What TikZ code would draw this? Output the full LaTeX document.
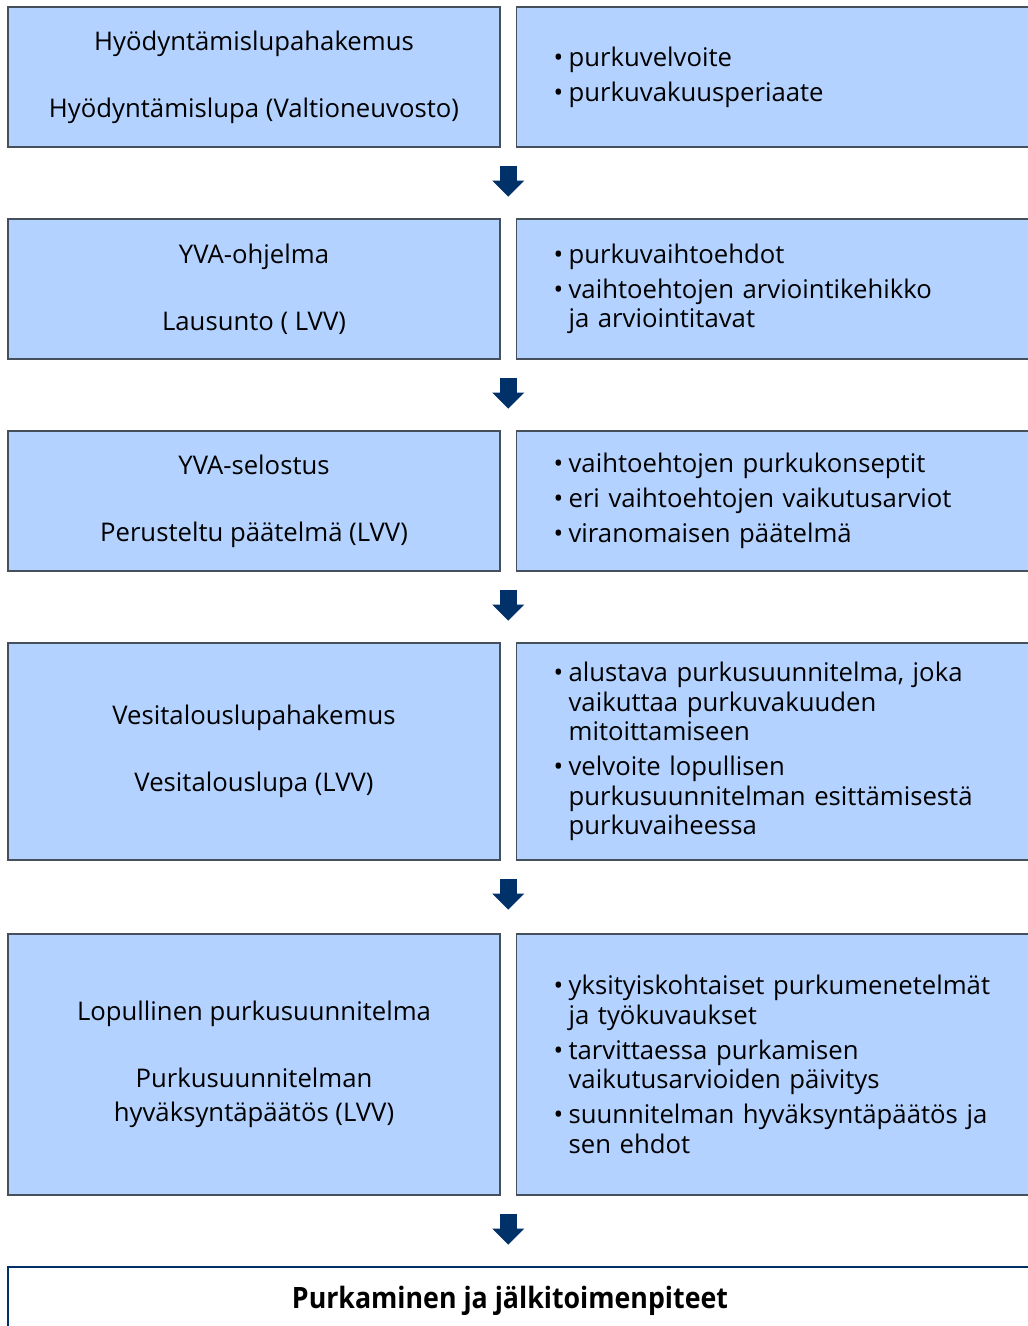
\documentclass[tikz,border=0pt]{standalone}
\usepackage{fontspec}
\setmainfont{Open Sans}
\newfontfamily\condfont[FakeStretch=0.91]{Open Sans}
\usetikzlibrary{arrows.meta, calc}
\definecolor{boxblue}{HTML}{B3D2FF}
\definecolor{boxline}{HTML}{45505C}
\definecolor{navy}{HTML}{003169}
\newcommand{\bul}{\makebox[15pt][l]{\textbullet}}
\newcommand{\ind}{\hspace*{15pt}}

\begin{document}
\begin{tikzpicture}[x=1pt, y=-1pt,
    leftbox/.style={draw=boxline, fill=boxblue, line width=1.2pt, minimum width=492pt, inner sep=0pt, align=center, font=\fontsize{25.7}{34}\selectfont},
    rightbox/.style={draw=boxline, fill=boxblue, line width=1.2pt, inner xsep=37pt, inner ysep=0pt, text width=450pt, align=left, font=\fontsize{25.7}{29.5}\selectfont},
    downarrow/.style={navy, line width=17pt, -{Triangle[width=31pt, length=16pt]}},
  ]
  \useasboundingbox (0,0) rectangle (1028,1326);
  \clip (0,0) rectangle (1028,1326);

  % Left column
  \node[leftbox, minimum height=140pt] (l1) at (254,77) {Hyödyntämislupahakemus\\[33pt]Hyödyntämislupa (Valtioneuvosto)};
  \node[leftbox, minimum height=140pt] (l2) at (254,289) {YVA-ohjelma\\[33pt]Lausunto ( LVV)};
  \node[leftbox, minimum height=140pt] (l3) at (254,501) {YVA-selostus\\[33pt]Perusteltu päätelmä (LVV)};
  \node[leftbox, minimum height=217pt] (l4) at (254,751.5) {Vesitalouslupahakemus\\[33pt]Vesitalouslupa (LVV)};
  \node[leftbox, minimum height=261pt] (l5) at (254,1064.5) {Lopullinen purkusuunnitelma\\[33pt]Purkusuunnitelman\\hyväksyntäpäätös (LVV)};

  % Right column
  \node[rightbox, minimum height=140pt, anchor=west] (r1) at (516,77)
    {\bul purkuvelvoite\\[5.5pt]\bul purkuvakuusperiaate};
  \node[rightbox, minimum height=140pt, anchor=west] (r2) at (516,289)
    {\bul purkuvaihtoehdot\\[5.5pt]\bul vaihtoehtojen arviointikehikko\\\ind ja arviointitavat};
  \node[rightbox, minimum height=140pt, anchor=west] (r3) at (516,501)
    {\bul vaihtoehtojen purkukonseptit\\[5.5pt]\bul eri vaihtoehtojen vaikutusarviot\\[5.5pt]\bul viranomaisen päätelmä};
  \node[rightbox, minimum height=217pt, anchor=west] (r4) at (516,751.5)
    {\bul alustava purkusuunnitelma, joka\\\ind vaikuttaa purkuvakuuden\\\ind mitoittamiseen\\[5.5pt]\bul velvoite lopullisen\\\ind purkusuunnitelman esittämisestä\\\ind purkuvaiheessa};
  \node[rightbox, minimum height=261pt, anchor=west] (r5) at (516,1064.5)
    {\bul yksityiskohtaiset purkumenetelmät\\\ind ja työkuvaukset\\[5.5pt]\bul tarvittaessa purkamisen\\\ind vaikutusarvioiden päivitys\\[5.5pt]\bul suunnitelman hyväksyntäpäätös ja\\\ind sen ehdot};

  % Arrows in the gap under each row
  \foreach \i in {1,...,5} {
    \coordinate (g\i) at ($(l\i.south east)!0.5!(r\i.south west)$);
    \draw[downarrow] ([yshift=-18pt]g\i) -- ([yshift=-49pt]g\i);
  }

  % Final step
  \draw[navy, line width=2pt] (8,1267) rectangle (1050,1400);
  \node[font=\condfont\bfseries\fontsize{29.4}{32}\selectfont] (fin) at (510,1301) {Purkaminen ja jälkitoimenpiteet};
\end{tikzpicture}
\end{document}
